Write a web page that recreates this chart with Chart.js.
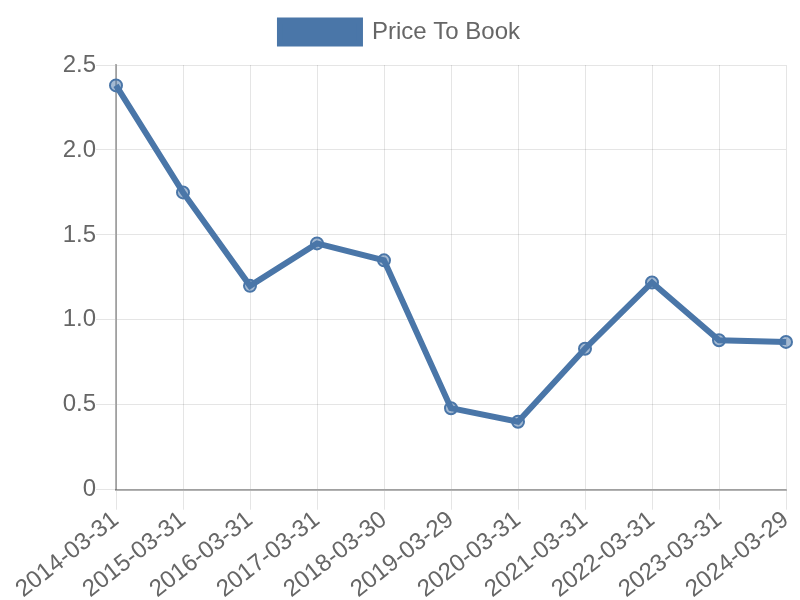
<!DOCTYPE html>
<html>
<head>
	<title>Price To Book</title>
	<script src="https://cdn.jsdelivr.net/npm/chart.js@4"></script>
<style>
	html, body { margin: 0; padding: 0; background: #fff; }
</style>
</head>
<body>
<div style="width: 800px; height: 600px;">
	<canvas id="chart"></canvas>
</div>

<script lang="text/javascript">
var dates = ['2014-03-31', '2015-03-31', '2016-03-31', '2017-03-31', '2018-03-30', '2019-03-29',
	'2020-03-31', '2021-03-31', '2022-03-31', '2023-03-31', '2024-03-29'];
var priceToBook = [2.38, 1.75, 1.20, 1.45, 1.35, 0.48, 0.40, 0.83, 1.22, 0.88, 0.87];
var yTicks = [0, 0.5, 1.0, 1.5, 2.0, 2.5];

Chart.defaults.font.family = '"Liberation Sans", Arial, sans-serif';
Chart.defaults.font.size = 24;
Chart.defaults.color = '#666';

// leave some room under the legend, and center it on the whole canvas
var legendSpace = {
	id : 'legendSpace',
	beforeInit : function(chart) {
		var fit = chart.legend.fit;
		chart.legend.fit = function() {
			fit.bind(chart.legend)();
			this.height += 11;
		};
	},
	afterLayout : function(chart) {
		chart.legend.left += 7;
		chart.legend.right += 7;
	}
};

var ctx = document.getElementById('chart');
var chart = new Chart(ctx, {
	type : 'line',
	data : {
		labels : dates,
		datasets : [{
			label : 'Price To Book',
			data : priceToBook,
			borderColor : '#4a76a8',
			backgroundColor : '#4a76a8',
			pointBackgroundColor : 'rgba(74, 118, 168, 0.5)',
			pointBorderColor : '#4a76a8',
			borderWidth : 6,
			pointRadius : 6,
			pointBorderWidth : 2,
			tension : 0,
			fill : false
		}]
	},
	plugins : [legendSpace],
	options : {
		responsive : true,
		maintainAspectRatio : false,
		animation : false,
		layout : {
			padding : { left : 0, right : 14, top : 10 }
		},
		plugins : {
			legend : {
				labels : {
					boxWidth : 80,
					boxHeight : 23,
					padding : 10
				}
			},
			tooltip : { enabled : false }
		},
		scales : {
			x : {
				grid : {
					color : 'rgba(0, 0, 0, 0.1)',
					tickLength : 20
				},
				border : { color : 'rgba(0, 0, 0, 0.3)', width : 2 },
				ticks : {
					maxRotation : 38,
					minRotation : 38,
					padding : -4
				}
			},
			y : {
				min : 0,
				max : 2.5,
				afterBuildTicks : function(axis) {
					axis.ticks = yTicks.map(function(v) { return { value : v }; });
				},
				afterFit : function(axis) {
					axis.width = 116;
				},
				grid : {
					color : 'rgba(0, 0, 0, 0.1)',
					tickLength : 20
				},
				border : { color : 'rgba(0, 0, 0, 0.3)', width : 2 },
				ticks : {
					padding : 0,
					callback : function(v) { return v === 0 ? '0' : v.toFixed(1); }
				}
			}
		}
	}
});
</script>
</body>
</html>
